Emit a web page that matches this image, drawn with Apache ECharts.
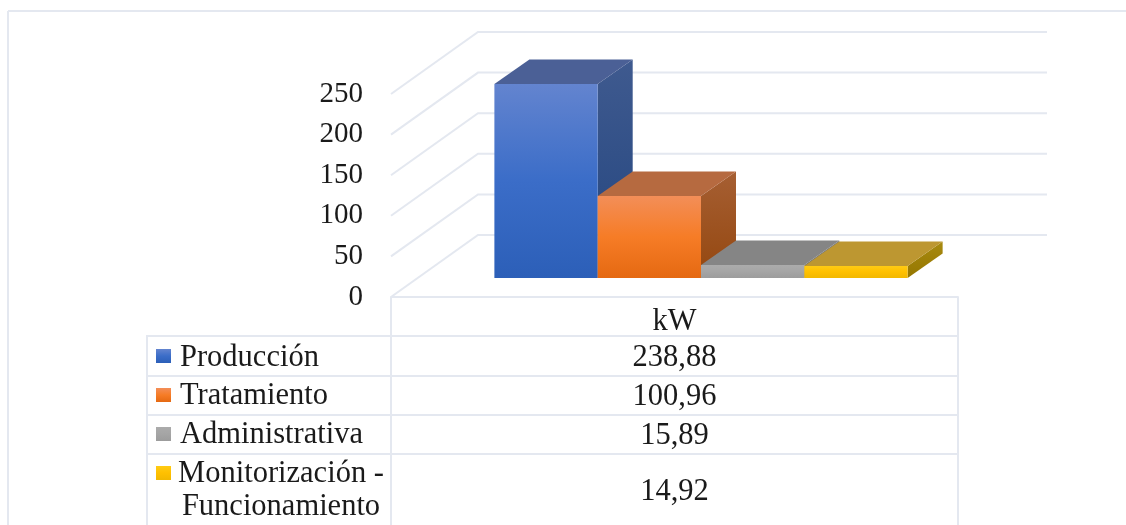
<!DOCTYPE html>
<html>
<head>
<meta charset="utf-8">
<title>kW</title>
<style>
  html, body { margin: 0; padding: 0; background: #fff; }
  #chart { width: 1126px; height: 525px; }
</style>
<script src="https://cdn.jsdelivr.net/npm/echarts@6/dist/echarts.min.js"></script>
</head>
<body>
<div id="chart"></div>
<script>
var unitLabel = ['kW'];
var seriesNames = ['Producción', 'Tratamiento', 'Administrativa', 'Monitorización -\nFuncionamiento'];
var seriesValues = [238.88, 100.96, 15.89, 14.92];
var tableValues = ['238,88', '100,96', '15,89', '14,92'];
var tickValues = [0, 50, 100, 150, 200, 250];

// front, top and side colours of each bar
var frontColors = [
  ['#6384cf', '#3b6dc8', '#2c5fb8'],
  ['#f38e58', '#f67c26', '#e56912'],
  ['#ababab', '#a5a5a5', '#9c9c9c'],
  ['#ffcb14', '#ffc000', '#f2b800']
];
var topColors = ['#4b6096', '#b66a40', '#858585', '#bd9731'];
var sideColors = [
  ['#3f5a8f', '#23457f'],
  ['#a65f33', '#94470f'],
  ['#7c7c7c', '#6e6e6e'],
  ['#a88a10', '#957600']
];

var FONT = '"Liberation Serif", serif';
var LINE = '#e4e8f0';
var WALL_DX = 87, WALL_DY = -62;     // depth of the side wall
var BAR_DX = 35, BAR_DY = -24.5;     // depth of a bar
var FLOOR_DX = 26.5;                 // bars sit a bit back from the front edge
var FLOOR_DY = -19;
var BAR_BAND = 0.1822;               // share of the category width per bar

function grad(stops) {
  var list = stops.map(function (c, i) {
    return { offset: stops.length > 1 ? i / (stops.length - 1) : 0, color: c };
  });
  return new echarts.graphic.LinearGradient(0, 0, 0, 1, list);
}

function renderWall(params, api) {
  var p = api.coord([0, api.value(0)]);
  var w = api.size([1, 0])[0];
  var x0 = p[0] - w / 2;
  return {
    type: 'polyline',
    silent: true,
    shape: { points: [[x0, p[1]], [x0 + WALL_DX, p[1] + WALL_DY], [x0 + WALL_DX + w + 2, p[1] + WALL_DY]] },
    style: { fill: null, stroke: LINE, lineWidth: 2 }
  };
}

function renderBar(idx) {
  return function (params, api) {
    var top = api.coord([0, api.value(1)]);
    var base = api.coord([0, 0]);
    var band = api.size([1, 0])[0];
    var bw = band * BAR_BAND;
    var x0 = top[0] - bw * 2 + bw * idx + FLOOR_DX;
    var x1 = x0 + bw;
    var yt = top[1] + FLOOR_DY;
    var yb = base[1] + FLOOR_DY;
    return {
      type: 'group',
      children: [
        {
          type: 'polygon',
          shape: { points: [[x1, yt], [x1 + BAR_DX, yt + BAR_DY], [x1 + BAR_DX, yb + BAR_DY], [x1, yb]] },
          style: { fill: grad(sideColors[idx]) }
        },
        {
          type: 'polygon',
          shape: { points: [[x0, yt], [x0 + BAR_DX, yt + BAR_DY], [x1 + BAR_DX, yt + BAR_DY], [x1, yt]] },
          style: { fill: topColors[idx] }
        },
        {
          type: 'rect',
          shape: { x: x0, y: yt, width: bw, height: yb - yt },
          style: { fill: grad(frontColors[idx]) }
        }
      ]
    };
  };
}

function hLine(x1, x2, y) {
  return { type: 'line', silent: true, shape: { x1: x1, y1: y, x2: x2, y2: y }, style: { stroke: LINE, lineWidth: 2 } };
}
function vLine(x, y1, y2) {
  return { type: 'line', silent: true, shape: { x1: x, y1: y1, x2: x, y2: y2 }, style: { stroke: LINE, lineWidth: 2 } };
}
function label(text, x, y, align) {
  return {
    type: 'text', silent: true, x: x, y: y,
    style: { text: text, fill: '#1a1a1a', font: '30.5px ' + FONT, align: align, verticalAlign: 'middle', lineHeight: 33 }
  };
}

// table below the plot
var rowLines = [336, 376, 415, 454];
var nameY = [357.5, 396, 435, 490];
var valueY = [358, 397, 436, 492];
var swatchY = [349, 388, 427, 466];
var tableItems = [
  hLine(8, 1126, 11), vLine(8, 11, 525),
  vLine(147, 336, 525), vLine(391, 297, 525), vLine(958, 297, 525)
];
rowLines.forEach(function (y) { tableItems.push(hLine(146, 959, y)); });
seriesNames.forEach(function (name, i) {
  tableItems.push({
    type: 'rect', silent: true,
    shape: { x: 156, y: swatchY[i], width: 15, height: 14 },
    style: { fill: grad(frontColors[i]) }
  });
  if (i === 3) {
    tableItems.push(label(name, 281, nameY[i], 'center'));
  } else {
    tableItems.push(label(name, 180, nameY[i], 'left'));
  }
  tableItems.push(label(tableValues[i], 674.5, valueY[i], 'center'));
});

var series = [{
  type: 'custom',
  name: 'walls',
  renderItem: renderWall,
  data: tickValues.map(function (t) { return [t]; }),
  encode: { x: -1, y: 0 },
  silent: true,
  z: 1
}];
seriesNames.forEach(function (name, i) {
  series.push({
    type: 'custom',
    name: name,
    renderItem: renderBar(i),
    data: [[0, seriesValues[i]]],
    encode: { x: 0, y: 1 },
    silent: true,
    z: 2 + i
  });
});

var chart = echarts.init(document.getElementById('chart'));
chart.setOption({
  animation: false,
  backgroundColor: '#fff',
  grid: { left: 391, top: 94, width: 567, height: 203 },
  xAxis: {
    type: 'category',
    data: unitLabel,
    axisLine: { show: true, lineStyle: { color: LINE, width: 2 } },
    axisTick: { show: false },
    axisLabel: { color: '#1a1a1a', fontFamily: FONT, fontSize: 30.5, margin: 9 }
  },
  yAxis: {
    type: 'value',
    min: 0,
    max: 250,
    interval: 50,
    axisLine: { show: false },
    axisTick: { show: false },
    splitLine: { show: false },
    axisLabel: { color: '#1a1a1a', fontFamily: FONT, fontSize: 29, margin: 28 }
  },
  graphic: { elements: tableItems },
  series: series
});
</script>
</body>
</html>
